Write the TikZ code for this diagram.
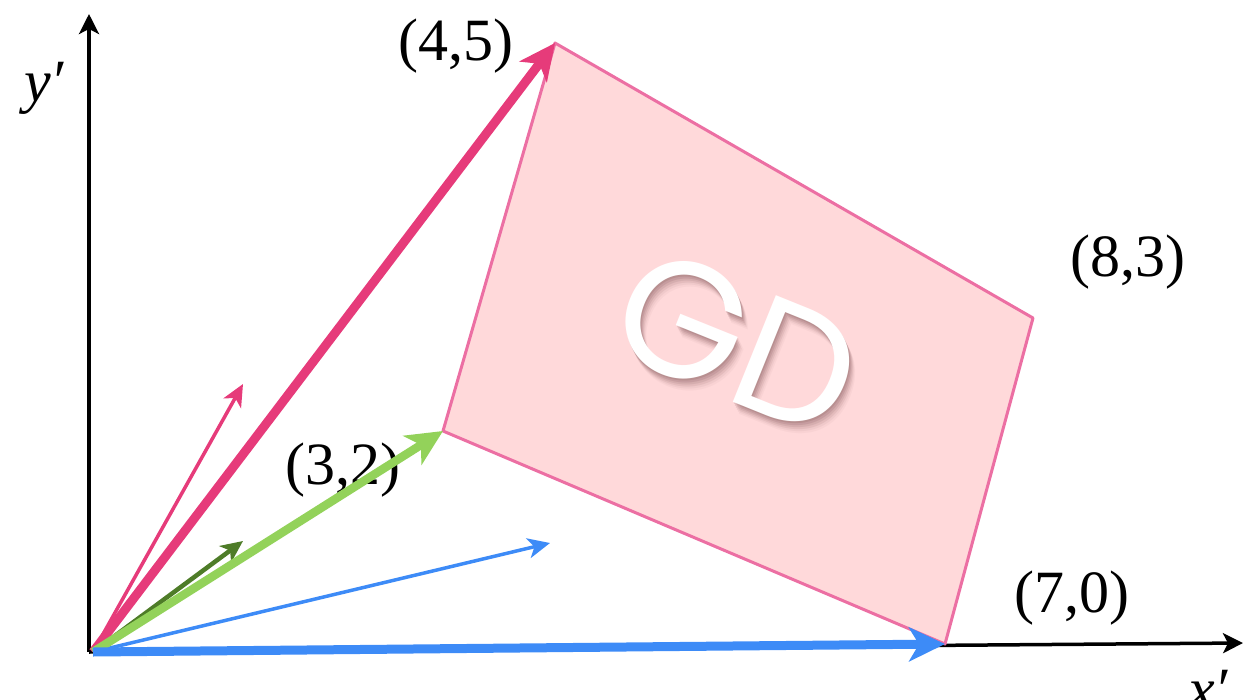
\documentclass[tikz,border=0pt]{standalone}
\usepackage{fontspec}
\setmainfont{Liberation Serif}
\newfontfamily\gdfont{Poppins}
\usetikzlibrary{arrows.meta}
\definecolor{quadfill}{HTML}{FFD9DA}
\definecolor{quadedge}{HTML}{EC6FA3}
\definecolor{pinkarr}{HTML}{E63B7A}
\definecolor{greenarr}{HTML}{93D25A}
\definecolor{dgreen}{HTML}{4E7C28}
\definecolor{bluearr}{HTML}{3D8BF7}
\definecolor{shadowc}{HTML}{6A3A3E}
\tikzset{
  big/.style={line width=9pt,-{Stealth[length=36pt,width=34pt,inset=10pt]}},
  small/.style={line width=3.5pt,-{Stealth[length=22pt,width=20pt,inset=6pt]}},
  axis/.style={line width=3.5pt,black,-{Stealth[length=20pt,width=20pt,inset=5pt]}},
  lbl/.style={font=\fontsize{60}{70}\selectfont,inner sep=0pt},
  axlbl/.style={font=\fontsize{60}{70}\selectfont\itshape,inner sep=0pt},
  gdtext/.style={font=\gdfont\fontsize{165}{175}\selectfont,rotate=-22,inner sep=0pt}
}
\begin{document}
\begin{tikzpicture}[x=1pt,y=-1pt]
\useasboundingbox (0,0) rectangle (1245,699);
\coordinate (O) at (93,652);
\coordinate (ox) at (89,652);
\coordinate (xe) at (1243,643);
\coordinate (ye) at (89,14);
\coordinate (A) at (555,43);
\coordinate (B) at (1033,318);
\coordinate (C) at (945,644);
\coordinate (D) at (443,431);
\coordinate (p1) at (243,384);
\coordinate (g1) at (243,541);
\coordinate (b1) at (550,543);
% axes
\draw[axis] (ox) -- (ye);
\draw[axis] (ox) -- (xe);
% quad
\filldraw[fill=quadfill,draw=quadedge,line width=3pt,line join=round] (A) -- (B) -- (C) -- (D) -- cycle;
% GD text with shadow
\foreach \dx/\dy/\op in {1/2/0.14,2/4/0.13,3/6/0.11,4/8/0.09,5/10/0.06,6/12/0.04}{
  \node[gdtext,text=shadowc,opacity=\op] at (738+\dx,342+\dy) {GD};
}
\node[gdtext,text=white] (gd) at (738,342) {GD};
% labels
\node[lbl] (l45) at (456,46) {(4,5)};
\node[lbl] (l83) at (1128,262) {(8,3)};
\node[lbl] (l32) at (343,470) {(3,2)};
\node[lbl] (l70) at (1072,598) {(7,0)};
\node[axlbl] (ly) at (44,88) {y′};
\node[axlbl] (lx) at (1208,690) {x′};
% thin arrows
\draw[small,pinkarr] (O) -- (p1);
\draw[small,dgreen,line width=4.5pt] (O) -- (g1);
\draw[small,bluearr] (O) -- (b1);
% thick arrows
\draw[big,pinkarr] (O) -- (A);
\draw[big,greenarr,line width=8.5pt] (O) -- (D);
\draw[big,bluearr] (O) -- (C);
\end{tikzpicture}
\end{document}
